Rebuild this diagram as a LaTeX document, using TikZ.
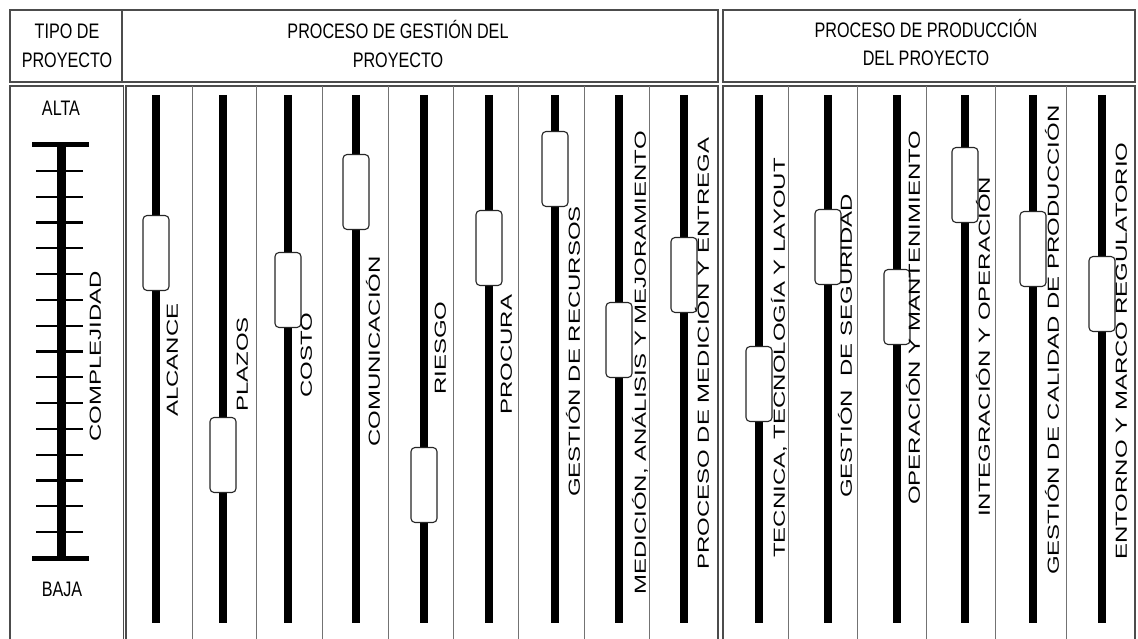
\documentclass[tikz,border=0pt]{standalone}
\usepackage{fontspec}
\setmainfont{Liberation Sans}
\usepackage{graphicx}
\usetikzlibrary{calc}
\newcommand{\narrowtxt}[1]{\scalebox{0.77}[1]{#1}}
\newcommand{\widetxt}[1]{\scalebox{1.5}[1]{#1}}
\begin{document}
\begin{tikzpicture}[x=1pt,y=-1pt,
  frame/.style={draw=black!70,line width=1.2pt},
  divider/.style={draw=black!55,line width=1pt},
  slot/.style={line width=8.5pt,black},
  knob/.style={draw=black!85,line width=1.1pt,fill=white,rounded corners=4pt,
    minimum width=26pt,minimum height=75pt,inner sep=0pt},
  vlabel/.style={rotate=90,anchor=west,inner sep=0pt,
    font=\fontsize{16}{16}\selectfont,text height=11.5pt,text depth=0pt},
  htext/.style={anchor=base,inner sep=0pt,font=\fontsize{21}{21}\selectfont},
  tickmark/.style={line width=2.2pt,black},
  endbar/.style={line width=5pt,black},
]
\useasboundingbox (0,0) rectangle (1138,639);
\clip (0,0) rectangle (1138,639);

% header row
\draw[frame] (10,10) rectangle (122,82);
\draw[frame] (122,10) rectangle (718,82);
\draw[frame] (723,10) rectangle (1135,82);
\node[htext] (tipoA) at (67,39) {\narrowtxt{TIPO DE}};
\node[htext] (tipoB) at (67,68) {\narrowtxt{PROYECTO}};
\node[htext] (gestA) at (398,39) {\narrowtxt{PROCESO DE GESTIÓN DEL}};
\node[htext] (gestB) at (398,68) {\narrowtxt{PROYECTO}};
\node[htext] (prodA) at (926,38) {\narrowtxt{PROCESO DE PRODUCCIÓN}};
\node[htext] (prodB) at (926,66) {\narrowtxt{DEL PROYECTO}};

% body columns (open at the bottom)
\draw[frame] (10,660) -- (10,86) -- (123.5,86) -- (123.5,660);
\draw[frame] (126,660) -- (126,86) -- (718,86) -- (718,660);
\draw[frame] (723,660) -- (723,86) -- (1135,86) -- (1135,660);
\foreach \sx in {192,256,322,388,453,518,584,649,788,857,926,995,1066}
  \draw[divider] (\sx,86) -- (\sx,660);

% complexity scale
\node[htext] (alta) at (61,116) {\narrowtxt{ALTA}};
\node[htext] (baja) at (62,596) {\narrowtxt{BAJA}};
\coordinate (scTop) at (61,145);
\coordinate (scBot) at (61,558);
\draw[line width=9pt] (scTop) -- (scBot);
\draw[endbar] ([xshift=-29pt]scTop) -- ([xshift=28pt]scTop);
\draw[endbar] ([xshift=-29pt]scBot) -- ([xshift=28pt]scBot);
\foreach \k in {1,...,15}
  \draw[tickmark] ($(scTop)!\k/16!(scBot)+(-25,0)$) -- ($(scTop)!\k/16!(scBot)+(22,0)$);
\node[vlabel] (cplx) at (95,442) {\widetxt{COMPLEJIDAD}};

% sliders: bar x / knob y / label x / label start y / text
\foreach \bx/\ky/\lx/\ly/\txt [count=\i] in {
  156/253/172/417/ALCANCE,
  223/455/242/412/PLAZOS,
  288/290/306/398/COSTO,
  356/192/374/447/COMUNICACIÓN,
  424/485/440/395/RIESGO,
  489/248/506/415/PROCURA,
  555/169/574/497/GESTIÓN DE RECURSOS,
  619/340/640/595/{MEDICIÓN, ANÁLISIS Y MEJORAMIENTO},
  684/275/703/570/PROCESO DE MEDICIÓN Y ENTREGA,
  759/384/779/558/{TECNICA, TECNOLOGÍA Y LAYOUT},
  828/247/846/498/GESTIÓN~ DE SEGURIDAD,
  897/307/914/505/OPERACIÓN Y MANTENIMIENTO,
  965/185/984/517/INTEGRACIÓN Y OPERACIÓN,
  1033/249/1053/575/GESTIÓN DE CALIDAD DE PRODUCCIÓN,
  1102/294/1121/560/ENTORNO Y MARCO REGULATORIO}
{
  \coordinate (top\i) at (\bx,95);
  \coordinate (bot\i) at (\bx,623);
  \draw[slot] (top\i) -- (bot\i);
  \node[knob] (knob\i) at (\bx,\ky) {};
  \node[vlabel] (lab\i) at (\lx,\ly) {\widetxt{\txt}};
}
\end{tikzpicture}
\end{document}
